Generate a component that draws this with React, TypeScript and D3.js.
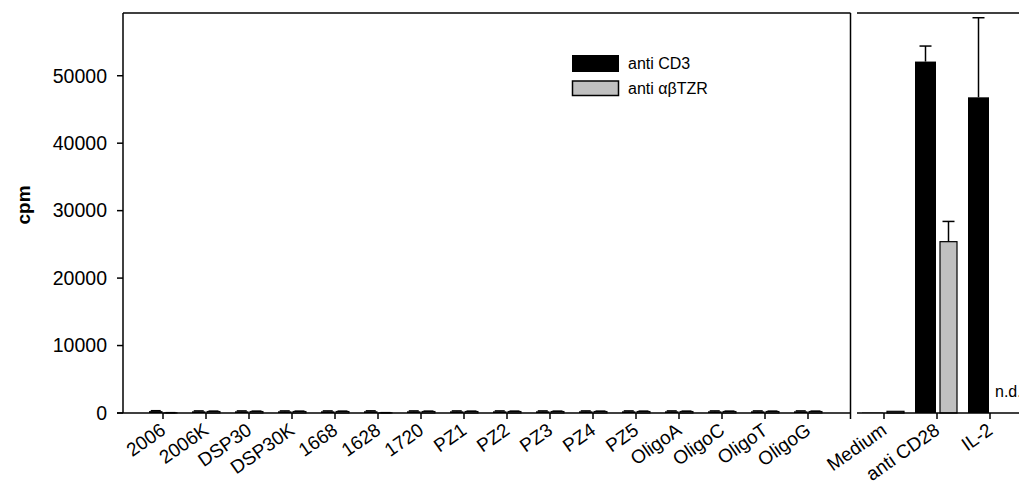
import React from "react";
import * as d3 from "d3";

const leftCategories = ["2006","2006K","DSP30","DSP30K","1668","1628","1720","PZ1","PZ2","PZ3","PZ4","PZ5","OligoA","OligoC","OligoT","OligoG"];
const leftCD3 = [280, 250, 250, 250, 250, 260, 250, 250, 250, 250, 250, 250, 250, 250, 250, 250];
const leftCD3Err = [60, 60, 60, 60, 60, 60, 60, 60, 60, 60, 60, 60, 60, 60, 60, 60];
const leftTZR = [30, 230, 230, 230, 230, 30, 230, 230, 230, 230, 230, 230, 230, 230, 230, 230];
const leftTZRErr = [20, 50, 50, 50, 50, 20, 50, 50, 50, 50, 50, 50, 50, 50, 50, 50];

const rightCategories = ["Medium", "anti CD28", "IL-2"];
const rightCD3 = [60, 52100, 46800];
const rightCD3Err = [0, 2300, 11800];
const rightTZR: (number | null)[] = [250, 25400, null];
const rightTZRErr: (number | null)[] = [0, 3000, null];

const yTicks = [0, 10000, 20000, 30000, 40000, 50000];
const legendLabels = ["anti CD3", "anti \u03b1\u03b2TZR"];

const W = 1019, H = 485;
const FONT = "'Liberation Sans', Arial, sans-serif";
const GRAY = "#c0c0c0";

export default function App() {
  const y = d3.scaleLinear().domain([0, 59300]).range([413, 13]);
  const xl = d3.scaleBand().domain(leftCategories).range([141.5, 829.5]).padding(0);
  const xr = d3.scaleBand().domain(rightCategories).range([857.5, 1016.5]).padding(0);
  const y0 = y(0);

  const errBar = (cx: number, v: number, e: number, cap: number, key: string) => (
    <g key={key} stroke="#000" strokeWidth={1.5}>
      <line x1={cx} x2={cx} y1={y(v)} y2={y(v + e)} />
      <line x1={cx - cap} x2={cx + cap} y1={y(v + e)} y2={y(v + e)} />
    </g>
  );

  return (
    <svg width={W} height={H} style={{ position: "absolute", left: 0, top: 0, background: "#fff" }} fontFamily={FONT}>
      {/* left panel bars */}
      {leftCategories.map((c, i) => {
        const cx = (xl(c) as number) + xl.bandwidth() / 2;
        return (
          <g key={c}>
            <rect x={cx - 14} width={13.5} y={y(leftCD3[i])} height={y0 - y(leftCD3[i])} fill="#000" />
            {errBar(cx - 7.25, leftCD3[i], leftCD3Err[i], 5, "e1")}
            <rect x={cx + 1} width={13} y={y(leftTZR[i])} height={y0 - y(leftTZR[i])} fill={GRAY} stroke="#000" strokeWidth={1} />
            {errBar(cx + 7.5, leftTZR[i], leftTZRErr[i], 5, "e2")}
          </g>
        );
      })}
      {/* right panel bars */}
      {rightCategories.map((c, i) => {
        const cx = (xr(c) as number) + xr.bandwidth() / 2;
        const t = rightTZR[i];
        const te = rightTZRErr[i];
        return (
          <g key={c}>
            <rect x={cx - 22} width={21} y={y(rightCD3[i])} height={y0 - y(rightCD3[i])} fill="#000" />
            {rightCD3Err[i] > 0 && errBar(cx - 11.5, rightCD3[i], rightCD3Err[i], 6, "e1")}
            {t !== null && (
              <rect x={cx + 3} width={17} y={y(t)} height={y0 - y(t)} fill={GRAY} stroke="#000" strokeWidth={1.2} />
            )}
            {t !== null && te !== null && te > 0 && errBar(cx + 11.5, t, te, 6, "e2")}
            {t === null && (
              <text x={cx + 5} y={397} fontSize={16}>n.d.</text>
            )}
          </g>
        );
      })}

      {/* frames */}
      <g stroke="#000" strokeWidth={1.5} fill="none">
        <line x1={123} x2={123} y1={13} y2={413} />
        <line x1={123} x2={850.5} y1={13} y2={13} />
        <line x1={850.5} x2={850.5} y1={13} y2={419} />
        <line x1={117} x2={850.5} y1={y0} y2={y0} />
        <line x1={857} x2={W} y1={13} y2={13} />
        <line x1={857} x2={W} y1={y0} y2={y0} />
      </g>

      {/* y ticks */}
      {yTicks.map((t) => (
        <g key={t}>
          <line x1={117} x2={123} y1={y(t)} y2={y(t)} stroke="#000" strokeWidth={1.5} />
          <text x={107} y={y(t)} dy="0.35em" textAnchor="end" fontSize={19.5}>{t}</text>
        </g>
      ))}

      {/* x ticks & labels */}
      {leftCategories.map((c) => {
        const cx = (xl(c) as number) + xl.bandwidth() / 2;
        return (
          <g key={c}>
            <line x1={cx} x2={cx} y1={y0} y2={y0 + 6} stroke="#000" strokeWidth={1.5} />
            <text transform={`translate(${cx + 4},${433}) rotate(-35)`} textAnchor="end" fontSize={19}>{c}</text>
          </g>
        );
      })}
      {rightCategories.map((c) => {
        const cx = (xr(c) as number) + xr.bandwidth() / 2;
        return (
          <g key={c}>
            <line x1={cx} x2={cx} y1={y0} y2={y0 + 6} stroke="#000" strokeWidth={1.5} />
            <text transform={`translate(${cx + 4},${433}) rotate(-35)`} textAnchor="end" fontSize={19}>{c}</text>
          </g>
        );
      })}

      {/* y label */}
      <text transform="translate(30,205) rotate(-90)" textAnchor="middle" fontSize={19} fontWeight="bold">cpm</text>

      {/* legend */}
      <rect x={572} y={55} width={47} height={17} fill="#000" />
      <text x={628} y={69} fontSize={16}>{legendLabels[0]}</text>
      <rect x={572.5} y={81} width={46} height={14.5} fill={GRAY} stroke="#000" strokeWidth={1.5} />
      <text x={628} y={94} fontSize={16}>{legendLabels[1]}</text>
    </svg>
  );
}
